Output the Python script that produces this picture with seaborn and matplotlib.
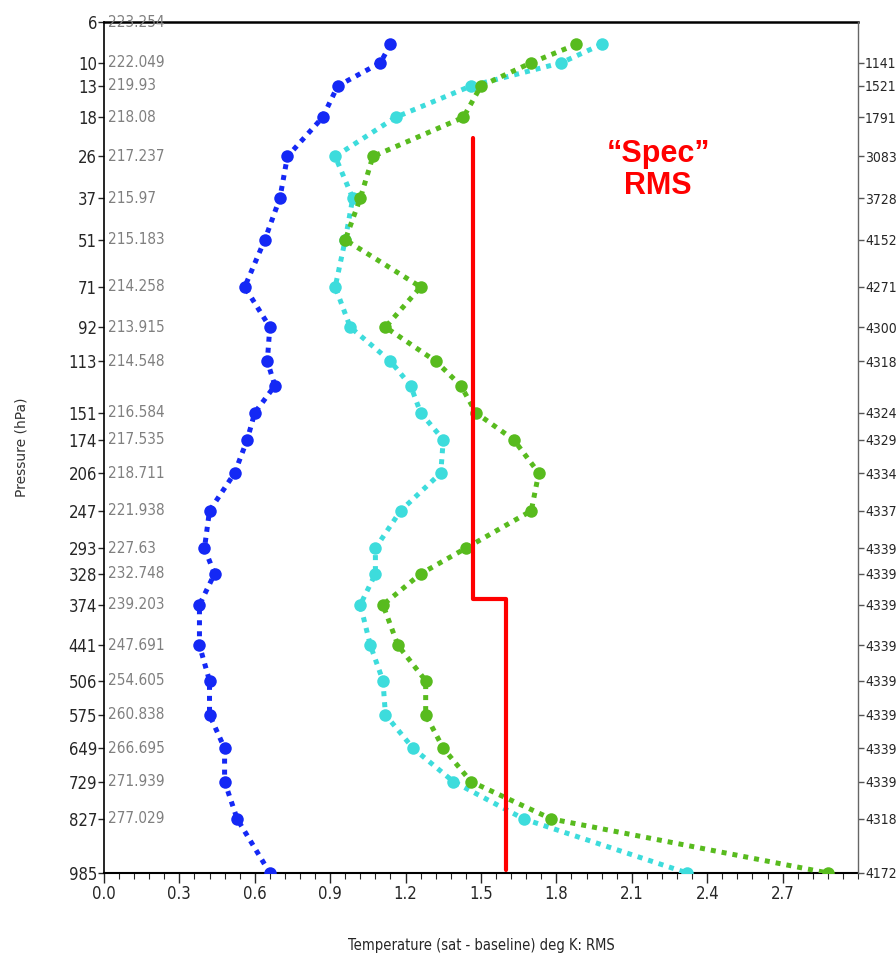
import numpy as np
import pandas as pd
import seaborn as sns
import matplotlib.pyplot as plt
import matplotlib.transforms as mtransforms
from matplotlib.ticker import NullLocator

# pressure levels (hPa) that carry data points
pressure = [8, 10, 13, 18, 26, 37, 51, 71, 92, 113, 130, 151, 174, 206, 247,
            293, 328, 374, 441, 506, 575, 649, 729, 827, 985]

# RMS temperature difference (deg K) per level
blue_rms = [1.14, 1.10, 0.93, 0.87, 0.73, 0.70, 0.64, 0.56, 0.66, 0.65, 0.68, 0.60,
            0.57, 0.52, 0.42, 0.40, 0.44, 0.38, 0.38, 0.42, 0.42, 0.48, 0.48, 0.53, 0.66]
cyan_rms = [1.98, 1.82, 1.46, 1.16, 0.92, 0.99, 0.96, 0.92, 0.98, 1.14, 1.22, 1.26,
            1.35, 1.34, 1.18, 1.08, 1.08, 1.02, 1.06, 1.11, 1.12, 1.23, 1.39, 1.67, 2.32]
green_rms = [1.88, 1.70, 1.50, 1.43, 1.07, 1.02, 0.96, 1.26, 1.12, 1.32, 1.42, 1.48,
             1.63, 1.73, 1.70, 1.44, 1.26, 1.11, 1.17, 1.28, 1.28, 1.35, 1.46, 1.78, 2.88]

# "Spec" RMS step line
spec_p = [22, 365, 365, 975]
spec_x = [1.47, 1.47, 1.60, 1.60]

# labelled axis levels
tick_p = [6, 10, 13, 18, 26, 37, 51, 71, 92, 113, 151, 174, 206, 247, 293, 328,
          374, 441, 506, 575, 649, 729, 827, 985]
temp_labels = ['223.254', '222.049', '219.93', '218.08', '217.237', '215.97', '215.183',
               '214.258', '213.915', '214.548', '216.584', '217.535', '218.711', '221.938',
               '227.63', '232.748', '239.203', '247.691', '254.605', '260.838', '266.695',
               '271.939', '277.029']
count_p = tick_p[1:]
count_labels = ['1141', '1521', '1791', '3083', '3728', '4152', '4271', '4300', '4318',
                '4324', '4329', '4334', '4337', '4339', '4339', '4339', '4339', '4339',
                '4339', '4339', '4339', '4318', '4172']

colors = {'blue': '#1428f5', 'cyan': '#3ddcdc', 'green': '#58bb1e'}

df = pd.DataFrame({
    'pressure': pressure * 3,
    'rms': blue_rms + cyan_rms + green_rms,
    'series': ['blue'] * len(pressure) + ['cyan'] * len(pressure) + ['green'] * len(pressure),
})

sns.set_style('ticks')
plt.rcParams['font.family'] = ['DejaVu Sans']
plt.rcParams['font.stretch'] = 'condensed'

fig = plt.figure(figsize=(8.96, 9.57), dpi=100)
ax = fig.add_axes([0.116, 0.0878, 0.8416, 0.889])

sns.lineplot(data=df, x='rms', y='pressure', hue='series', palette=colors,
             sort=False, orient='y', estimator=None, marker='o', markersize=9,
             markeredgewidth=0, linewidth=3.6, linestyle=(0, (1, 1.2)),
             legend=False, ax=ax, zorder=3)
sns.lineplot(x=spec_x, y=spec_p, sort=False, orient='y', estimator=None,
             color='#ff0000', linewidth=3, ax=ax, zorder=4)

# pressure-like axis (p ** kappa)
fwd = lambda p: np.power(np.clip(p, 1e-6, None), 0.286)
inv = lambda v: np.power(np.clip(v, 1e-6, None), 1 / 0.286)
ax.set_yscale('function', functions=(fwd, inv))
ax.set_ylim(985, 6)
ax.set_xlim(0, 3.0)

ax.set_yticks(tick_p)
ax.set_yticklabels([str(p) for p in tick_p])
ax.yaxis.set_minor_locator(NullLocator())
ax.set_xticks(np.arange(0, 2.8, 0.3))
ax.set_xticklabels([f'{v:.1f}' for v in np.arange(0, 2.8, 0.3)])
ax.set_xticks(np.arange(0, 3.01, 0.06), minor=True)
ax.tick_params(axis='x', which='major', direction='out', length=7, width=1, labelsize=12, pad=2)
ax.tick_params(axis='x', which='minor', direction='out', length=4, width=0.8)
ax.tick_params(axis='y', direction='out', length=4, width=1, labelsize=12, pad=1)

ax.spines['left'].set_linestyle((0, (2, 1)))
ax.spines['left'].set_linewidth(1.2)
ax.spines['top'].set_linewidth(1.8)
ax.spines['bottom'].set_linewidth(1.5)
ax.spines['right'].set_visible(False)
for s in ['left', 'top', 'bottom']:
    ax.spines[s].set_color('black')

# grey temperature labels inside the left edge
trans = mtransforms.blended_transform_factory(ax.transAxes, ax.transData)
for p, lab in zip(tick_p, temp_labels):
    ax.text(0.006, p, lab, transform=trans, ha='left', va='center',
            fontsize=11, color='#7f7f7f')

ax.set_xlabel('Temperature (sat - baseline) deg K: RMS', fontsize=10.5)
ax.xaxis.set_label_coords(0.5, -0.076)
ax.set_ylabel('Pressure (hPa)', fontsize=10, fontstretch='normal', color='#333333')
ax.yaxis.set_label_coords(-0.1, 0.5)

ax.text(0.735, 0.826, '\u201cSpec\u201d\nRMS', transform=ax.transAxes, ha='center',
        va='center', multialignment='center', fontsize=22, fontweight='bold',
        color='#ff0000', family='Liberation Sans', fontstretch='normal', linespacing=1.1)

# right axis with sample counts
ax2 = ax.twinx()
ax2.set_yscale('function', functions=(fwd, inv))
ax2.set_ylim(985, 6)
ax2.set_yticks(count_p)
ax2.set_yticklabels(count_labels)
ax2.yaxis.set_minor_locator(NullLocator())
ax2.tick_params(axis='y', direction='out', length=4, width=1, labelsize=10, pad=1,
                color='#555555')
for s in ['left', 'top', 'bottom']:
    ax2.spines[s].set_visible(False)
ax2.spines['right'].set_color('#666666')
ax2.spines['right'].set_linewidth(1)

fig.savefig('out.png', dpi=100)
